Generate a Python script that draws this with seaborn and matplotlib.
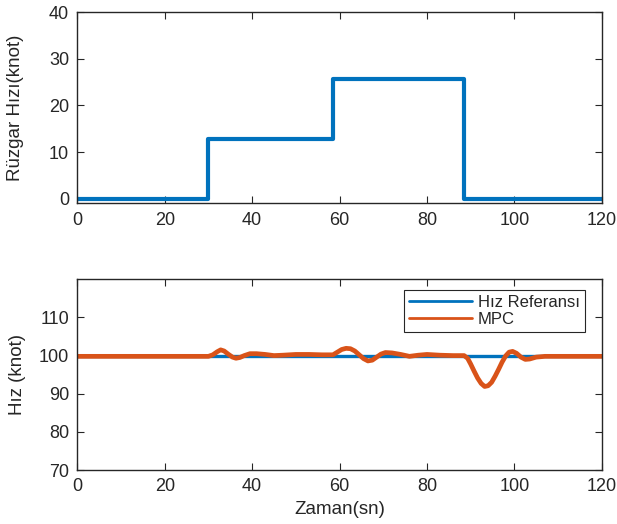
import numpy as np
import pandas as pd
import matplotlib
matplotlib.use("Agg")
import matplotlib.pyplot as plt
import seaborn as sns

# Rüzgar hızı (basamak profili)
t_wind = [0, 30, 58.5, 88.5, 120]
v_wind = [0, 12.8, 25.7, 0, 0]

# Hız referansı
t_ref = [0, 120]
v_ref = [100, 100]

# MPC cevabı (resimden okunan noktalar)
t_mpc = [0, 15, 30, 31, 32, 32.8, 33.6, 34.5, 35.5, 36.3, 37.2, 38.2, 39.5, 41, 43, 45, 47,
         50, 53, 56, 58.5, 59.5, 60.5, 61.5, 62.5, 63.5, 64.5, 65.5, 66.5, 67.5, 68.5, 69.5,
         70.5, 72, 74, 76, 78, 80, 83, 86, 88.5, 89.3, 90, 90.8, 91.6, 92.4, 93.2, 94,
         94.8, 95.6, 96.4, 97.2, 98, 98.8, 99.6, 100.5, 101.5, 102.5, 103.5, 105, 107, 110, 120]
v_mpc = [99.8, 99.8, 99.8, 100.2, 101.0, 101.5, 101.2, 100.4, 99.6, 99.3, 99.5, 100.0, 100.5, 100.5, 100.3, 100.0, 100.1,
         100.3, 100.3, 100.2, 100.2, 100.9, 101.6, 101.9, 101.8, 101.2, 100.2, 99.2, 98.6, 98.8, 99.6, 100.4,
         100.8, 100.7, 100.3, 99.8, 100.1, 100.3, 100.1, 100.0, 100.0, 99.3, 97.8, 95.9, 94.1, 92.7, 91.9, 92.1,
         93.0, 94.6, 96.4, 98.3, 99.9, 100.9, 101.1, 100.6, 99.6, 99.0, 99.1, 99.6, 99.8, 99.8, 99.8]

sns.set_style("ticks")
plt.rcParams["font.family"] = ["Liberation Sans", "DejaVu Sans"]
plt.rcParams["font.size"] = 13

blue = "#0072BD"
orange = "#D95319"
dark = "#262626"

fig = plt.figure(figsize=(6.17, 5.24), dpi=100)
ax1 = fig.add_axes([0.1253, 0.612, 0.850, 0.3645])
ax2 = fig.add_axes([0.1253, 0.103, 0.850, 0.364])

# Üst grafik: rüzgar hızı
sns.lineplot(x=t_wind, y=v_wind, ax=ax1, color=blue, linewidth=3.0,
             drawstyle="steps-post", estimator=None, sort=False)
ax1.set_xlim(0, 120)
ax1.set_ylim(-1, 40)
ax1.set_yticks([0, 10, 20, 30, 40])
ax1.set_xticks(np.arange(0, 121, 20))
ax1.set_ylabel("Rüzgar Hızı(knot)", color=dark, fontsize=13.5)
ax1.yaxis.set_label_coords(-0.102, 0.5)

# Alt grafik: hız takibi
df_ref = pd.DataFrame({"t": t_ref, "v": v_ref})
df_mpc = pd.DataFrame({"t": t_mpc, "v": v_mpc})
sns.lineplot(data=df_ref, x="t", y="v", ax=ax2, color=blue, linewidth=2.4,
             label="Hız Referansı", estimator=None, sort=False)
sns.lineplot(data=df_mpc, x="t", y="v", ax=ax2, color=orange, linewidth=3.4,
             label="MPC", estimator=None, sort=False)
ax2.set_xlim(0, 120)
ax2.set_ylim(70, 120)
ax2.set_yticks([70, 80, 90, 100, 110])
ax2.set_xticks(np.arange(0, 121, 20))
ax2.set_xlabel("Zaman(sn)", color=dark, fontsize=13.5)
ax2.xaxis.set_label_coords(0.5, -0.165)
ax2.set_ylabel("Hız (knot)", color=dark, fontsize=13.5)
ax2.yaxis.set_label_coords(-0.097, 0.5)
leg = ax2.legend(loc="upper right", bbox_to_anchor=(0.968, 0.944), fontsize=12,
                 frameon=True, fancybox=False, edgecolor=dark, framealpha=1,
                 handlelength=3.8, handletextpad=0.35, borderpad=0.3,
                 labelspacing=0.12, borderaxespad=0)
leg.get_frame().set_linewidth(0.8)
for line in leg.get_lines():
    line.set_linewidth(2.0)

for ax in (ax1, ax2):
    for s in ax.spines.values():
        s.set_visible(True)
        s.set_color(dark)
        s.set_linewidth(1.0)
    ax.tick_params(direction="in", top=True, right=True, length=5, width=0.8,
                   colors=dark, labelsize=13, labelcolor=dark, pad=6)

plt.savefig("out.png", dpi=100)
